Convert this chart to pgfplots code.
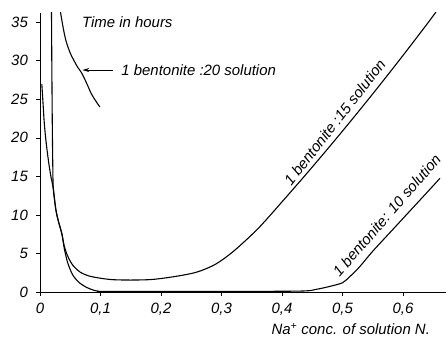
\documentclass[border=0pt]{standalone}
\usepackage{pgfplots}
\pgfplotsset{compat=1.18}
\usepackage{fontspec}
\setmainfont{Liberation Sans}
\usetikzlibrary{arrows.meta}
\begin{document}
\fontsize{15}{18}\selectfont
\begin{tikzpicture}
\begin{axis}[
  name=ax, scale only axis, width=406bp, height=279bp,
  xmin=0, xmax=0.671, ymin=0, ymax=36.2,
  axis lines=left, axis line style={-, line width=0.9pt},
  xtick={0,0.1,0.2,0.3,0.4,0.5,0.6},
  xticklabels={0,{0,1},{0,2},{0,3},{0,4},{0,5},{0,6}},
  ytick={0,5,10,15,20,25,30,35},
  tick align=outside, major tick length=4bp,
  tick style={black, line width=0.7pt},
  every tick label/.append style={font=\fontsize{15}{18}\selectfont\itshape},
  x tick label style={yshift=-2bp},
  y tick label style={xshift=-3bp},
  /pgf/number format/assume math mode=true,
  clip mode=individual,
  every axis plot/.append style={line width=1.1pt, smooth, no marks}
]
% 1 bentonite : 15 solution
\addplot[black] coordinates {
(0.003,27) (0.005,24.5) (0.007,22) (0.010,19.5) (0.014,17) (0.018,15)
(0.022,13.4) (0.026,10.8) (0.030,9.3) (0.036,7.6) (0.040,6.0) (0.045,4.8)
(0.050,4.0) (0.055,3.4) (0.066,2.6) (0.080,2.1) (0.099,1.8) (0.12,1.6) (0.15,1.55)
(0.18,1.6) (0.20,1.75) (0.23,2.1) (0.26,2.6) (0.29,3.6) (0.32,5.3) (0.36,8.2)
(0.40,11.7) (0.44,15.3) (0.48,19.0) (0.52,22.8) (0.56,26.7)
(0.60,30.7) (0.64,34.8) (0.655,36.4)
};
% 1 bentonite : 10 solution
\addplot[black] coordinates {
(0.0190,36.5) (0.0195,30) (0.0203,22) (0.0212,16) (0.022,13.4)
(0.026,10.8) (0.030,9.3) (0.036,7.6) (0.040,5.7) (0.045,4.0) (0.050,2.9)
(0.055,2.1) (0.065,1.2) (0.077,0.6) (0.088,0.25) (0.097,0.1)
(0.11,0.08) (0.3,0.08) (0.43,0.12) (0.457,0.35) (0.48,0.75) (0.50,1.2)
(0.512,2.0) (0.524,2.9) (0.534,3.8) (0.55,5.3) (0.58,7.85) (0.61,10.4)
(0.64,12.95) (0.661,14.75)
};
% 1 bentonite : 20 solution
\addplot[black] coordinates {
(0.0335,36.5) (0.036,35.3) (0.040,33.6) (0.044,32.3) (0.050,31)
(0.055,30.2) (0.062,29.2) (0.069,28.4) (0.077,27.1) (0.085,25.7)
(0.092,24.8) (0.099,24.0)
};
\node[anchor=west, font=\fontsize{15}{18}\selectfont\itshape] at (axis cs:0.061,35.0) {Time in hours};
\draw[-{Stealth[length=7bp,width=4bp]}, line width=0.8pt] (axis cs:0.121,28.8) -- (axis cs:0.070,28.8);
\node[anchor=west, font=\fontsize{15}{18}\selectfont\itshape] at (axis cs:0.126,28.8) {1 bentonite :20 solution};
\node[rotate=52, font=\fontsize{15}{18}\selectfont\itshape] at (axis cs:0.487,22.0) {1 bentonite :15 solution};
\node[rotate=49, font=\fontsize{15}{18}\selectfont\itshape] at (axis cs:0.573,9.95) {1 bentonite: 10 solution};
\node[anchor=east, font=\fontsize{15}{18}\selectfont\itshape] at (axis cs:0.653,-4.8) {Na\textsuperscript{+} conc. of solution N.};
\end{axis}
\pgfresetboundingbox
\path[use as bounding box] ([shift={(-40bp,-47bp)}]ax.south west) rectangle ([shift={(406bp,292bp)}]ax.south west);
\end{tikzpicture}
\end{document}
